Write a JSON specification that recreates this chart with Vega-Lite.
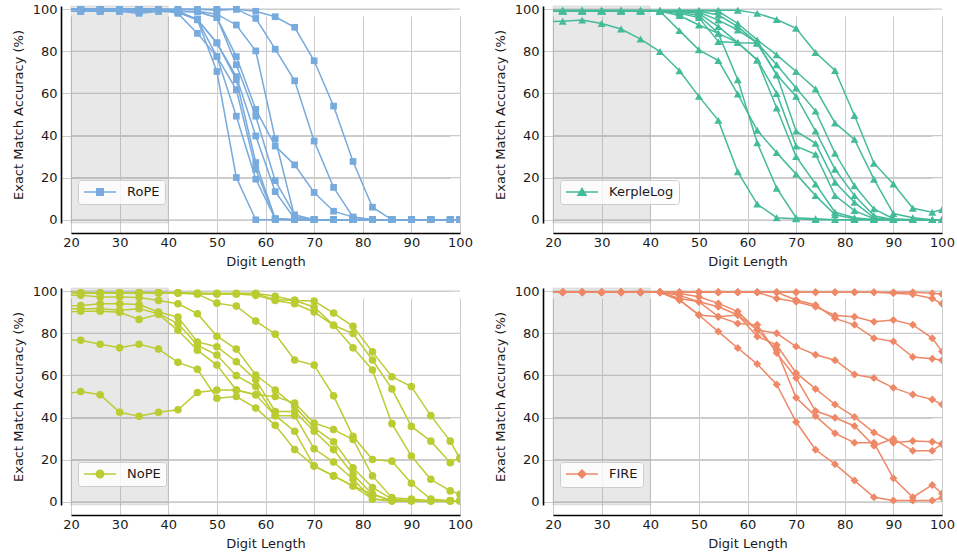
{
  "$schema": "https://vega.github.io/schema/vega-lite/v6.json",
  "padding": {"left": 12, "top": 3, "right": 6, "bottom": 4},
  "datasets": {
    "acc": [
      {"m":"RoPE","r":1,"x":18,"y":100},{"m":"RoPE","r":1,"x":22,"y":100},{"m":"RoPE","r":1,"x":26,"y":99},{"m":"RoPE","r":1,"x":30,"y":100},{"m":"RoPE","r":1,"x":34,"y":99},{"m":"RoPE","r":1,"x":38,"y":100},{"m":"RoPE","r":1,"x":42,"y":100},{"m":"RoPE","r":1,"x":46,"y":100},{"m":"RoPE","r":1,"x":50,"y":100},{"m":"RoPE","r":1,"x":54,"y":100},{"m":"RoPE","r":1,"x":58,"y":99},{"m":"RoPE","r":1,"x":62,"y":96.4},{"m":"RoPE","r":1,"x":66,"y":91.4},{"m":"RoPE","r":1,"x":70,"y":75.5},{"m":"RoPE","r":1,"x":74,"y":54},{"m":"RoPE","r":1,"x":78,"y":27.7},{"m":"RoPE","r":1,"x":82,"y":6},{"m":"RoPE","r":1,"x":86,"y":0},{"m":"RoPE","r":1,"x":90,"y":0},{"m":"RoPE","r":1,"x":94,"y":0},{"m":"RoPE","r":1,"x":98,"y":0},{"m":"RoPE","r":1,"x":100,"y":0},
      {"m":"RoPE","r":2,"x":18,"y":100},{"m":"RoPE","r":2,"x":22,"y":100},{"m":"RoPE","r":2,"x":26,"y":100},{"m":"RoPE","r":2,"x":30,"y":100},{"m":"RoPE","r":2,"x":34,"y":100},{"m":"RoPE","r":2,"x":38,"y":100},{"m":"RoPE","r":2,"x":42,"y":100},{"m":"RoPE","r":2,"x":46,"y":100},{"m":"RoPE","r":2,"x":50,"y":99.5},{"m":"RoPE","r":2,"x":54,"y":100},{"m":"RoPE","r":2,"x":58,"y":95.6},{"m":"RoPE","r":2,"x":62,"y":81},{"m":"RoPE","r":2,"x":66,"y":66},{"m":"RoPE","r":2,"x":70,"y":37.4},{"m":"RoPE","r":2,"x":74,"y":15.4},{"m":"RoPE","r":2,"x":78,"y":1.3},{"m":"RoPE","r":2,"x":82,"y":0},{"m":"RoPE","r":2,"x":86,"y":0},{"m":"RoPE","r":2,"x":90,"y":0},{"m":"RoPE","r":2,"x":94,"y":0},{"m":"RoPE","r":2,"x":98,"y":0},{"m":"RoPE","r":2,"x":100,"y":0},
      {"m":"RoPE","r":3,"x":18,"y":99},{"m":"RoPE","r":3,"x":22,"y":99},{"m":"RoPE","r":3,"x":26,"y":99},{"m":"RoPE","r":3,"x":30,"y":99},{"m":"RoPE","r":3,"x":34,"y":98},{"m":"RoPE","r":3,"x":38,"y":99},{"m":"RoPE","r":3,"x":42,"y":99},{"m":"RoPE","r":3,"x":46,"y":99},{"m":"RoPE","r":3,"x":50,"y":97.6},{"m":"RoPE","r":3,"x":54,"y":92.5},{"m":"RoPE","r":3,"x":58,"y":80.2},{"m":"RoPE","r":3,"x":62,"y":38.5},{"m":"RoPE","r":3,"x":66,"y":1.3},{"m":"RoPE","r":3,"x":70,"y":0},{"m":"RoPE","r":3,"x":74,"y":0},{"m":"RoPE","r":3,"x":78,"y":0},{"m":"RoPE","r":3,"x":82,"y":0},{"m":"RoPE","r":3,"x":86,"y":0},{"m":"RoPE","r":3,"x":90,"y":0},{"m":"RoPE","r":3,"x":94,"y":0},{"m":"RoPE","r":3,"x":98,"y":0},{"m":"RoPE","r":3,"x":100,"y":0},
      {"m":"RoPE","r":4,"x":18,"y":100},{"m":"RoPE","r":4,"x":22,"y":100},{"m":"RoPE","r":4,"x":26,"y":100},{"m":"RoPE","r":4,"x":30,"y":100},{"m":"RoPE","r":4,"x":34,"y":100},{"m":"RoPE","r":4,"x":38,"y":100},{"m":"RoPE","r":4,"x":42,"y":99},{"m":"RoPE","r":4,"x":46,"y":98.7},{"m":"RoPE","r":4,"x":50,"y":96},{"m":"RoPE","r":4,"x":54,"y":77.5},{"m":"RoPE","r":4,"x":58,"y":52.4},{"m":"RoPE","r":4,"x":62,"y":35},{"m":"RoPE","r":4,"x":66,"y":26.1},{"m":"RoPE","r":4,"x":70,"y":13},{"m":"RoPE","r":4,"x":74,"y":4.1},{"m":"RoPE","r":4,"x":78,"y":1.3},{"m":"RoPE","r":4,"x":82,"y":0},{"m":"RoPE","r":4,"x":86,"y":0},{"m":"RoPE","r":4,"x":90,"y":0},{"m":"RoPE","r":4,"x":94,"y":0},{"m":"RoPE","r":4,"x":98,"y":0},{"m":"RoPE","r":4,"x":100,"y":0},
      {"m":"RoPE","r":5,"x":18,"y":100},{"m":"RoPE","r":5,"x":22,"y":100},{"m":"RoPE","r":5,"x":26,"y":100},{"m":"RoPE","r":5,"x":30,"y":100},{"m":"RoPE","r":5,"x":34,"y":100},{"m":"RoPE","r":5,"x":38,"y":100},{"m":"RoPE","r":5,"x":42,"y":99},{"m":"RoPE","r":5,"x":46,"y":98.7},{"m":"RoPE","r":5,"x":50,"y":96},{"m":"RoPE","r":5,"x":54,"y":73.6},{"m":"RoPE","r":5,"x":58,"y":49.2},{"m":"RoPE","r":5,"x":62,"y":18.6},{"m":"RoPE","r":5,"x":66,"y":2.4},{"m":"RoPE","r":5,"x":70,"y":0},{"m":"RoPE","r":5,"x":74,"y":0},{"m":"RoPE","r":5,"x":78,"y":0},{"m":"RoPE","r":5,"x":82,"y":0},{"m":"RoPE","r":5,"x":86,"y":0},{"m":"RoPE","r":5,"x":90,"y":0},{"m":"RoPE","r":5,"x":94,"y":0},{"m":"RoPE","r":5,"x":98,"y":0},{"m":"RoPE","r":5,"x":100,"y":0},
      {"m":"RoPE","r":6,"x":18,"y":99},{"m":"RoPE","r":6,"x":22,"y":99},{"m":"RoPE","r":6,"x":26,"y":99},{"m":"RoPE","r":6,"x":30,"y":99},{"m":"RoPE","r":6,"x":34,"y":99},{"m":"RoPE","r":6,"x":38,"y":99},{"m":"RoPE","r":6,"x":42,"y":98.5},{"m":"RoPE","r":6,"x":46,"y":95},{"m":"RoPE","r":6,"x":50,"y":84},{"m":"RoPE","r":6,"x":54,"y":68},{"m":"RoPE","r":6,"x":58,"y":39.8},{"m":"RoPE","r":6,"x":62,"y":13.4},{"m":"RoPE","r":6,"x":66,"y":0.5},{"m":"RoPE","r":6,"x":70,"y":0},{"m":"RoPE","r":6,"x":74,"y":0},{"m":"RoPE","r":6,"x":78,"y":0},{"m":"RoPE","r":6,"x":82,"y":0},{"m":"RoPE","r":6,"x":86,"y":0},{"m":"RoPE","r":6,"x":90,"y":0},{"m":"RoPE","r":6,"x":94,"y":0},{"m":"RoPE","r":6,"x":98,"y":0},{"m":"RoPE","r":6,"x":100,"y":0},
      {"m":"RoPE","r":7,"x":18,"y":100},{"m":"RoPE","r":7,"x":22,"y":100},{"m":"RoPE","r":7,"x":26,"y":100},{"m":"RoPE","r":7,"x":30,"y":100},{"m":"RoPE","r":7,"x":34,"y":100},{"m":"RoPE","r":7,"x":38,"y":100},{"m":"RoPE","r":7,"x":42,"y":99},{"m":"RoPE","r":7,"x":46,"y":95},{"m":"RoPE","r":7,"x":50,"y":84},{"m":"RoPE","r":7,"x":54,"y":66.5},{"m":"RoPE","r":7,"x":58,"y":27.2},{"m":"RoPE","r":7,"x":62,"y":0.5},{"m":"RoPE","r":7,"x":66,"y":0},{"m":"RoPE","r":7,"x":70,"y":0},{"m":"RoPE","r":7,"x":74,"y":0},{"m":"RoPE","r":7,"x":78,"y":0},{"m":"RoPE","r":7,"x":82,"y":0},{"m":"RoPE","r":7,"x":86,"y":0},{"m":"RoPE","r":7,"x":90,"y":0},{"m":"RoPE","r":7,"x":94,"y":0},{"m":"RoPE","r":7,"x":98,"y":0},{"m":"RoPE","r":7,"x":100,"y":0},
      {"m":"RoPE","r":8,"x":18,"y":100},{"m":"RoPE","r":8,"x":22,"y":100},{"m":"RoPE","r":8,"x":26,"y":100},{"m":"RoPE","r":8,"x":30,"y":100},{"m":"RoPE","r":8,"x":34,"y":100},{"m":"RoPE","r":8,"x":38,"y":100},{"m":"RoPE","r":8,"x":42,"y":98.5},{"m":"RoPE","r":8,"x":46,"y":95},{"m":"RoPE","r":8,"x":50,"y":77.5},{"m":"RoPE","r":8,"x":54,"y":61.8},{"m":"RoPE","r":8,"x":58,"y":24},{"m":"RoPE","r":8,"x":62,"y":0.5},{"m":"RoPE","r":8,"x":66,"y":0},{"m":"RoPE","r":8,"x":70,"y":0},{"m":"RoPE","r":8,"x":74,"y":0},{"m":"RoPE","r":8,"x":78,"y":0},{"m":"RoPE","r":8,"x":82,"y":0},{"m":"RoPE","r":8,"x":86,"y":0},{"m":"RoPE","r":8,"x":90,"y":0},{"m":"RoPE","r":8,"x":94,"y":0},{"m":"RoPE","r":8,"x":98,"y":0},{"m":"RoPE","r":8,"x":100,"y":0},
      {"m":"RoPE","r":9,"x":18,"y":99},{"m":"RoPE","r":9,"x":22,"y":99},{"m":"RoPE","r":9,"x":26,"y":100},{"m":"RoPE","r":9,"x":30,"y":99},{"m":"RoPE","r":9,"x":34,"y":99},{"m":"RoPE","r":9,"x":38,"y":100},{"m":"RoPE","r":9,"x":42,"y":98},{"m":"RoPE","r":9,"x":46,"y":88.5},{"m":"RoPE","r":9,"x":50,"y":77.5},{"m":"RoPE","r":9,"x":54,"y":49.2},{"m":"RoPE","r":9,"x":58,"y":19.3},{"m":"RoPE","r":9,"x":62,"y":0.5},{"m":"RoPE","r":9,"x":66,"y":0},{"m":"RoPE","r":9,"x":70,"y":0},{"m":"RoPE","r":9,"x":74,"y":0},{"m":"RoPE","r":9,"x":78,"y":0},{"m":"RoPE","r":9,"x":82,"y":0},{"m":"RoPE","r":9,"x":86,"y":0},{"m":"RoPE","r":9,"x":90,"y":0},{"m":"RoPE","r":9,"x":94,"y":0},{"m":"RoPE","r":9,"x":98,"y":0},{"m":"RoPE","r":9,"x":100,"y":0},
      {"m":"RoPE","r":10,"x":18,"y":100},{"m":"RoPE","r":10,"x":22,"y":100},{"m":"RoPE","r":10,"x":26,"y":100},{"m":"RoPE","r":10,"x":30,"y":100},{"m":"RoPE","r":10,"x":34,"y":100},{"m":"RoPE","r":10,"x":38,"y":100},{"m":"RoPE","r":10,"x":42,"y":99},{"m":"RoPE","r":10,"x":46,"y":95},{"m":"RoPE","r":10,"x":50,"y":70.4},{"m":"RoPE","r":10,"x":54,"y":20.1},{"m":"RoPE","r":10,"x":58,"y":0},{"m":"RoPE","r":10,"x":62,"y":0},{"m":"RoPE","r":10,"x":66,"y":0},{"m":"RoPE","r":10,"x":70,"y":0},{"m":"RoPE","r":10,"x":74,"y":0},{"m":"RoPE","r":10,"x":78,"y":0},{"m":"RoPE","r":10,"x":82,"y":0},{"m":"RoPE","r":10,"x":86,"y":0},{"m":"RoPE","r":10,"x":90,"y":0},{"m":"RoPE","r":10,"x":94,"y":0},{"m":"RoPE","r":10,"x":98,"y":0},{"m":"RoPE","r":10,"x":100,"y":0},

      {"m":"KerpleLog","r":1,"x":18,"y":94},{"m":"KerpleLog","r":1,"x":22,"y":94.3},{"m":"KerpleLog","r":1,"x":26,"y":94.8},{"m":"KerpleLog","r":1,"x":30,"y":93.2},{"m":"KerpleLog","r":1,"x":34,"y":90.6},{"m":"KerpleLog","r":1,"x":38,"y":85.8},{"m":"KerpleLog","r":1,"x":42,"y":79.9},{"m":"KerpleLog","r":1,"x":46,"y":70.8},{"m":"KerpleLog","r":1,"x":50,"y":58.6},{"m":"KerpleLog","r":1,"x":54,"y":47.2},{"m":"KerpleLog","r":1,"x":58,"y":22.8},{"m":"KerpleLog","r":1,"x":62,"y":7.5},{"m":"KerpleLog","r":1,"x":66,"y":1},{"m":"KerpleLog","r":1,"x":70,"y":0.5},{"m":"KerpleLog","r":1,"x":74,"y":0},{"m":"KerpleLog","r":1,"x":78,"y":0},{"m":"KerpleLog","r":1,"x":82,"y":0},{"m":"KerpleLog","r":1,"x":86,"y":0},{"m":"KerpleLog","r":1,"x":90,"y":0},{"m":"KerpleLog","r":1,"x":94,"y":0},{"m":"KerpleLog","r":1,"x":98,"y":0},{"m":"KerpleLog","r":1,"x":100,"y":0},
      {"m":"KerpleLog","r":2,"x":18,"y":99.2},{"m":"KerpleLog","r":2,"x":22,"y":99.2},{"m":"KerpleLog","r":2,"x":26,"y":99.2},{"m":"KerpleLog","r":2,"x":30,"y":99.2},{"m":"KerpleLog","r":2,"x":34,"y":99.2},{"m":"KerpleLog","r":2,"x":38,"y":99.2},{"m":"KerpleLog","r":2,"x":42,"y":99},{"m":"KerpleLog","r":2,"x":46,"y":97},{"m":"KerpleLog","r":2,"x":50,"y":92.5},{"m":"KerpleLog","r":2,"x":54,"y":88.5},{"m":"KerpleLog","r":2,"x":58,"y":66.5},{"m":"KerpleLog","r":2,"x":62,"y":36.6},{"m":"KerpleLog","r":2,"x":66,"y":15},{"m":"KerpleLog","r":2,"x":70,"y":1},{"m":"KerpleLog","r":2,"x":74,"y":0.5},{"m":"KerpleLog","r":2,"x":78,"y":0},{"m":"KerpleLog","r":2,"x":82,"y":0},{"m":"KerpleLog","r":2,"x":86,"y":0},{"m":"KerpleLog","r":2,"x":90,"y":0},{"m":"KerpleLog","r":2,"x":94,"y":0},{"m":"KerpleLog","r":2,"x":98,"y":0},{"m":"KerpleLog","r":2,"x":100,"y":0},
      {"m":"KerpleLog","r":3,"x":18,"y":99.2},{"m":"KerpleLog","r":3,"x":22,"y":99.2},{"m":"KerpleLog","r":3,"x":26,"y":99.2},{"m":"KerpleLog","r":3,"x":30,"y":99.2},{"m":"KerpleLog","r":3,"x":34,"y":99.2},{"m":"KerpleLog","r":3,"x":38,"y":99.2},{"m":"KerpleLog","r":3,"x":42,"y":99},{"m":"KerpleLog","r":3,"x":46,"y":89.8},{"m":"KerpleLog","r":3,"x":50,"y":80.7},{"m":"KerpleLog","r":3,"x":54,"y":75.6},{"m":"KerpleLog","r":3,"x":58,"y":59.7},{"m":"KerpleLog","r":3,"x":62,"y":42.5},{"m":"KerpleLog","r":3,"x":66,"y":31.9},{"m":"KerpleLog","r":3,"x":70,"y":21.7},{"m":"KerpleLog","r":3,"x":74,"y":11.5},{"m":"KerpleLog","r":3,"x":78,"y":2.4},{"m":"KerpleLog","r":3,"x":82,"y":0.5},{"m":"KerpleLog","r":3,"x":86,"y":0},{"m":"KerpleLog","r":3,"x":90,"y":0},{"m":"KerpleLog","r":3,"x":94,"y":0},{"m":"KerpleLog","r":3,"x":98,"y":0},{"m":"KerpleLog","r":3,"x":100,"y":0},
      {"m":"KerpleLog","r":4,"x":18,"y":99.2},{"m":"KerpleLog","r":4,"x":22,"y":99.2},{"m":"KerpleLog","r":4,"x":26,"y":99.2},{"m":"KerpleLog","r":4,"x":30,"y":99.2},{"m":"KerpleLog","r":4,"x":34,"y":99.2},{"m":"KerpleLog","r":4,"x":38,"y":99.2},{"m":"KerpleLog","r":4,"x":42,"y":99},{"m":"KerpleLog","r":4,"x":46,"y":98},{"m":"KerpleLog","r":4,"x":50,"y":96},{"m":"KerpleLog","r":4,"x":54,"y":84.6},{"m":"KerpleLog","r":4,"x":58,"y":84.1},{"m":"KerpleLog","r":4,"x":62,"y":75.9},{"m":"KerpleLog","r":4,"x":66,"y":53.1},{"m":"KerpleLog","r":4,"x":70,"y":30},{"m":"KerpleLog","r":4,"x":74,"y":17},{"m":"KerpleLog","r":4,"x":78,"y":3.6},{"m":"KerpleLog","r":4,"x":82,"y":1},{"m":"KerpleLog","r":4,"x":86,"y":0},{"m":"KerpleLog","r":4,"x":90,"y":0},{"m":"KerpleLog","r":4,"x":94,"y":0},{"m":"KerpleLog","r":4,"x":98,"y":0},{"m":"KerpleLog","r":4,"x":100,"y":0},
      {"m":"KerpleLog","r":5,"x":18,"y":99.2},{"m":"KerpleLog","r":5,"x":22,"y":99.2},{"m":"KerpleLog","r":5,"x":26,"y":99.2},{"m":"KerpleLog","r":5,"x":30,"y":99.2},{"m":"KerpleLog","r":5,"x":34,"y":99.2},{"m":"KerpleLog","r":5,"x":38,"y":99.2},{"m":"KerpleLog","r":5,"x":42,"y":99},{"m":"KerpleLog","r":5,"x":46,"y":98.5},{"m":"KerpleLog","r":5,"x":50,"y":97},{"m":"KerpleLog","r":5,"x":54,"y":88.5},{"m":"KerpleLog","r":5,"x":58,"y":84.1},{"m":"KerpleLog","r":5,"x":62,"y":75.9},{"m":"KerpleLog","r":5,"x":66,"y":60},{"m":"KerpleLog","r":5,"x":70,"y":35},{"m":"KerpleLog","r":5,"x":74,"y":31.1},{"m":"KerpleLog","r":5,"x":78,"y":11.5},{"m":"KerpleLog","r":5,"x":82,"y":4.4},{"m":"KerpleLog","r":5,"x":86,"y":0.5},{"m":"KerpleLog","r":5,"x":90,"y":0},{"m":"KerpleLog","r":5,"x":94,"y":0},{"m":"KerpleLog","r":5,"x":98,"y":0},{"m":"KerpleLog","r":5,"x":100,"y":0},
      {"m":"KerpleLog","r":6,"x":18,"y":99.2},{"m":"KerpleLog","r":6,"x":22,"y":99.2},{"m":"KerpleLog","r":6,"x":26,"y":99.2},{"m":"KerpleLog","r":6,"x":30,"y":99.2},{"m":"KerpleLog","r":6,"x":34,"y":99.2},{"m":"KerpleLog","r":6,"x":38,"y":99.2},{"m":"KerpleLog","r":6,"x":42,"y":99.2},{"m":"KerpleLog","r":6,"x":46,"y":99},{"m":"KerpleLog","r":6,"x":50,"y":98},{"m":"KerpleLog","r":6,"x":54,"y":91.7},{"m":"KerpleLog","r":6,"x":58,"y":84.1},{"m":"KerpleLog","r":6,"x":62,"y":83.8},{"m":"KerpleLog","r":6,"x":66,"y":68.9},{"m":"KerpleLog","r":6,"x":70,"y":42.1},{"m":"KerpleLog","r":6,"x":74,"y":36.3},{"m":"KerpleLog","r":6,"x":78,"y":17.8},{"m":"KerpleLog","r":6,"x":82,"y":8.3},{"m":"KerpleLog","r":6,"x":86,"y":1},{"m":"KerpleLog","r":6,"x":90,"y":0},{"m":"KerpleLog","r":6,"x":94,"y":0},{"m":"KerpleLog","r":6,"x":98,"y":0},{"m":"KerpleLog","r":6,"x":100,"y":0},
      {"m":"KerpleLog","r":7,"x":18,"y":99.2},{"m":"KerpleLog","r":7,"x":22,"y":99.2},{"m":"KerpleLog","r":7,"x":26,"y":99.2},{"m":"KerpleLog","r":7,"x":30,"y":99.2},{"m":"KerpleLog","r":7,"x":34,"y":99.2},{"m":"KerpleLog","r":7,"x":38,"y":99.2},{"m":"KerpleLog","r":7,"x":42,"y":99.2},{"m":"KerpleLog","r":7,"x":46,"y":99},{"m":"KerpleLog","r":7,"x":50,"y":98.5},{"m":"KerpleLog","r":7,"x":54,"y":94.8},{"m":"KerpleLog","r":7,"x":58,"y":90.1},{"m":"KerpleLog","r":7,"x":62,"y":84},{"m":"KerpleLog","r":7,"x":66,"y":68.9},{"m":"KerpleLog","r":7,"x":70,"y":58.6},{"m":"KerpleLog","r":7,"x":74,"y":42.1},{"m":"KerpleLog","r":7,"x":78,"y":24},{"m":"KerpleLog","r":7,"x":82,"y":11.5},{"m":"KerpleLog","r":7,"x":86,"y":2},{"m":"KerpleLog","r":7,"x":90,"y":0},{"m":"KerpleLog","r":7,"x":94,"y":0},{"m":"KerpleLog","r":7,"x":98,"y":0},{"m":"KerpleLog","r":7,"x":100,"y":0},
      {"m":"KerpleLog","r":8,"x":18,"y":99.2},{"m":"KerpleLog","r":8,"x":22,"y":99.2},{"m":"KerpleLog","r":8,"x":26,"y":99.2},{"m":"KerpleLog","r":8,"x":30,"y":99.2},{"m":"KerpleLog","r":8,"x":34,"y":99.2},{"m":"KerpleLog","r":8,"x":38,"y":99.2},{"m":"KerpleLog","r":8,"x":42,"y":99.2},{"m":"KerpleLog","r":8,"x":46,"y":99.2},{"m":"KerpleLog","r":8,"x":50,"y":99},{"m":"KerpleLog","r":8,"x":54,"y":97.2},{"m":"KerpleLog","r":8,"x":58,"y":91.7},{"m":"KerpleLog","r":8,"x":62,"y":84},{"m":"KerpleLog","r":8,"x":66,"y":73.6},{"m":"KerpleLog","r":8,"x":70,"y":62.6},{"m":"KerpleLog","r":8,"x":74,"y":51.6},{"m":"KerpleLog","r":8,"x":78,"y":31.6},{"m":"KerpleLog","r":8,"x":82,"y":16.2},{"m":"KerpleLog","r":8,"x":86,"y":5.2},{"m":"KerpleLog","r":8,"x":90,"y":0.5},{"m":"KerpleLog","r":8,"x":94,"y":0},{"m":"KerpleLog","r":8,"x":98,"y":0},{"m":"KerpleLog","r":8,"x":100,"y":0},
      {"m":"KerpleLog","r":9,"x":18,"y":99.2},{"m":"KerpleLog","r":9,"x":22,"y":99.2},{"m":"KerpleLog","r":9,"x":26,"y":99.2},{"m":"KerpleLog","r":9,"x":30,"y":99.2},{"m":"KerpleLog","r":9,"x":34,"y":99.2},{"m":"KerpleLog","r":9,"x":38,"y":99.2},{"m":"KerpleLog","r":9,"x":42,"y":99.2},{"m":"KerpleLog","r":9,"x":46,"y":99.2},{"m":"KerpleLog","r":9,"x":50,"y":99.2},{"m":"KerpleLog","r":9,"x":54,"y":99},{"m":"KerpleLog","r":9,"x":58,"y":93.2},{"m":"KerpleLog","r":9,"x":62,"y":85.4},{"m":"KerpleLog","r":9,"x":66,"y":78.3},{"m":"KerpleLog","r":9,"x":70,"y":70.4},{"m":"KerpleLog","r":9,"x":74,"y":62.1},{"m":"KerpleLog","r":9,"x":78,"y":46},{"m":"KerpleLog","r":9,"x":82,"y":38.2},{"m":"KerpleLog","r":9,"x":86,"y":19.3},{"m":"KerpleLog","r":9,"x":90,"y":3},{"m":"KerpleLog","r":9,"x":94,"y":1},{"m":"KerpleLog","r":9,"x":98,"y":0},{"m":"KerpleLog","r":9,"x":100,"y":0},
      {"m":"KerpleLog","r":10,"x":18,"y":99.5},{"m":"KerpleLog","r":10,"x":22,"y":99.5},{"m":"KerpleLog","r":10,"x":26,"y":99.5},{"m":"KerpleLog","r":10,"x":30,"y":99.5},{"m":"KerpleLog","r":10,"x":34,"y":99.5},{"m":"KerpleLog","r":10,"x":38,"y":99.5},{"m":"KerpleLog","r":10,"x":42,"y":99.5},{"m":"KerpleLog","r":10,"x":46,"y":99.5},{"m":"KerpleLog","r":10,"x":50,"y":99.5},{"m":"KerpleLog","r":10,"x":54,"y":99.5},{"m":"KerpleLog","r":10,"x":58,"y":99.5},{"m":"KerpleLog","r":10,"x":62,"y":98},{"m":"KerpleLog","r":10,"x":66,"y":95.1},{"m":"KerpleLog","r":10,"x":70,"y":90.9},{"m":"KerpleLog","r":10,"x":74,"y":79.4},{"m":"KerpleLog","r":10,"x":78,"y":70.9},{"m":"KerpleLog","r":10,"x":82,"y":49.5},{"m":"KerpleLog","r":10,"x":86,"y":26.9},{"m":"KerpleLog","r":10,"x":90,"y":17},{"m":"KerpleLog","r":10,"x":94,"y":5.5},{"m":"KerpleLog","r":10,"x":98,"y":3.6},{"m":"KerpleLog","r":10,"x":100,"y":4.9},

      {"m":"NoPE","r":1,"x":18,"y":99.5},{"m":"NoPE","r":1,"x":22,"y":99.2},{"m":"NoPE","r":1,"x":26,"y":99.2},{"m":"NoPE","r":1,"x":30,"y":99.2},{"m":"NoPE","r":1,"x":34,"y":99.2},{"m":"NoPE","r":1,"x":38,"y":99.2},{"m":"NoPE","r":1,"x":42,"y":99.2},{"m":"NoPE","r":1,"x":46,"y":99},{"m":"NoPE","r":1,"x":50,"y":99},{"m":"NoPE","r":1,"x":54,"y":99},{"m":"NoPE","r":1,"x":58,"y":99},{"m":"NoPE","r":1,"x":62,"y":97.6},{"m":"NoPE","r":1,"x":66,"y":95.6},{"m":"NoPE","r":1,"x":70,"y":95.3},{"m":"NoPE","r":1,"x":74,"y":89.6},{"m":"NoPE","r":1,"x":78,"y":83.3},{"m":"NoPE","r":1,"x":82,"y":71.2},{"m":"NoPE","r":1,"x":86,"y":59.4},{"m":"NoPE","r":1,"x":90,"y":54.7},{"m":"NoPE","r":1,"x":94,"y":40.9},{"m":"NoPE","r":1,"x":98,"y":28.8},{"m":"NoPE","r":1,"x":100,"y":20.4},
      {"m":"NoPE","r":2,"x":18,"y":99.5},{"m":"NoPE","r":2,"x":22,"y":99.2},{"m":"NoPE","r":2,"x":26,"y":99.2},{"m":"NoPE","r":2,"x":30,"y":99.2},{"m":"NoPE","r":2,"x":34,"y":99.2},{"m":"NoPE","r":2,"x":38,"y":99.2},{"m":"NoPE","r":2,"x":42,"y":99.2},{"m":"NoPE","r":2,"x":46,"y":99},{"m":"NoPE","r":2,"x":50,"y":98.7},{"m":"NoPE","r":2,"x":54,"y":98.7},{"m":"NoPE","r":2,"x":58,"y":98.7},{"m":"NoPE","r":2,"x":62,"y":96},{"m":"NoPE","r":2,"x":66,"y":95.6},{"m":"NoPE","r":2,"x":70,"y":92.5},{"m":"NoPE","r":2,"x":74,"y":83.8},{"m":"NoPE","r":2,"x":78,"y":79.9},{"m":"NoPE","r":2,"x":82,"y":67.3},{"m":"NoPE","r":2,"x":86,"y":53.6},{"m":"NoPE","r":2,"x":90,"y":35.8},{"m":"NoPE","r":2,"x":94,"y":28.8},{"m":"NoPE","r":2,"x":98,"y":18.6},{"m":"NoPE","r":2,"x":100,"y":21},
      {"m":"NoPE","r":3,"x":18,"y":99.5},{"m":"NoPE","r":3,"x":22,"y":99.2},{"m":"NoPE","r":3,"x":26,"y":99.2},{"m":"NoPE","r":3,"x":30,"y":99.2},{"m":"NoPE","r":3,"x":34,"y":99.2},{"m":"NoPE","r":3,"x":38,"y":99.2},{"m":"NoPE","r":3,"x":42,"y":99},{"m":"NoPE","r":3,"x":46,"y":98.7},{"m":"NoPE","r":3,"x":50,"y":98.7},{"m":"NoPE","r":3,"x":54,"y":98.7},{"m":"NoPE","r":3,"x":58,"y":98},{"m":"NoPE","r":3,"x":62,"y":95.6},{"m":"NoPE","r":3,"x":66,"y":94},{"m":"NoPE","r":3,"x":70,"y":90.1},{"m":"NoPE","r":3,"x":74,"y":83.8},{"m":"NoPE","r":3,"x":78,"y":73.1},{"m":"NoPE","r":3,"x":82,"y":62.6},{"m":"NoPE","r":3,"x":86,"y":37.1},{"m":"NoPE","r":3,"x":90,"y":21.7},{"m":"NoPE","r":3,"x":94,"y":10.7},{"m":"NoPE","r":3,"x":98,"y":5.2},{"m":"NoPE","r":3,"x":100,"y":3.6},
      {"m":"NoPE","r":4,"x":18,"y":99.2},{"m":"NoPE","r":4,"x":22,"y":99.2},{"m":"NoPE","r":4,"x":26,"y":99.2},{"m":"NoPE","r":4,"x":30,"y":99.2},{"m":"NoPE","r":4,"x":34,"y":99.2},{"m":"NoPE","r":4,"x":38,"y":99.2},{"m":"NoPE","r":4,"x":42,"y":99.2},{"m":"NoPE","r":4,"x":46,"y":98.7},{"m":"NoPE","r":4,"x":50,"y":94.3},{"m":"NoPE","r":4,"x":54,"y":92.9},{"m":"NoPE","r":4,"x":58,"y":85.8},{"m":"NoPE","r":4,"x":62,"y":79.6},{"m":"NoPE","r":4,"x":66,"y":67.3},{"m":"NoPE","r":4,"x":70,"y":64.9},{"m":"NoPE","r":4,"x":74,"y":50.3},{"m":"NoPE","r":4,"x":78,"y":31.1},{"m":"NoPE","r":4,"x":82,"y":20.1},{"m":"NoPE","r":4,"x":86,"y":19.3},{"m":"NoPE","r":4,"x":90,"y":8.8},{"m":"NoPE","r":4,"x":94,"y":1.3},{"m":"NoPE","r":4,"x":98,"y":0.5},{"m":"NoPE","r":4,"x":100,"y":0.5},
      {"m":"NoPE","r":5,"x":18,"y":98},{"m":"NoPE","r":5,"x":22,"y":98},{"m":"NoPE","r":5,"x":26,"y":97.2},{"m":"NoPE","r":5,"x":30,"y":97.2},{"m":"NoPE","r":5,"x":34,"y":97},{"m":"NoPE","r":5,"x":38,"y":95.6},{"m":"NoPE","r":5,"x":42,"y":94},{"m":"NoPE","r":5,"x":46,"y":89.3},{"m":"NoPE","r":5,"x":50,"y":78.6},{"m":"NoPE","r":5,"x":54,"y":72.5},{"m":"NoPE","r":5,"x":58,"y":60.2},{"m":"NoPE","r":5,"x":62,"y":53.1},{"m":"NoPE","r":5,"x":66,"y":45.3},{"m":"NoPE","r":5,"x":70,"y":35.1},{"m":"NoPE","r":5,"x":74,"y":28.5},{"m":"NoPE","r":5,"x":78,"y":16.2},{"m":"NoPE","r":5,"x":82,"y":6.8},{"m":"NoPE","r":5,"x":86,"y":1.3},{"m":"NoPE","r":5,"x":90,"y":0.5},{"m":"NoPE","r":5,"x":94,"y":0.5},{"m":"NoPE","r":5,"x":98,"y":0.5},{"m":"NoPE","r":5,"x":100,"y":0.5},
      {"m":"NoPE","r":6,"x":18,"y":93},{"m":"NoPE","r":6,"x":22,"y":93.2},{"m":"NoPE","r":6,"x":26,"y":94},{"m":"NoPE","r":6,"x":30,"y":94},{"m":"NoPE","r":6,"x":34,"y":93.7},{"m":"NoPE","r":6,"x":38,"y":90.1},{"m":"NoPE","r":6,"x":42,"y":87.7},{"m":"NoPE","r":6,"x":46,"y":75.9},{"m":"NoPE","r":6,"x":50,"y":73.6},{"m":"NoPE","r":6,"x":54,"y":66.5},{"m":"NoPE","r":6,"x":58,"y":57.9},{"m":"NoPE","r":6,"x":62,"y":42.9},{"m":"NoPE","r":6,"x":66,"y":42.9},{"m":"NoPE","r":6,"x":70,"y":33.5},{"m":"NoPE","r":6,"x":74,"y":24.8},{"m":"NoPE","r":6,"x":78,"y":13},{"m":"NoPE","r":6,"x":82,"y":3.6},{"m":"NoPE","r":6,"x":86,"y":0.5},{"m":"NoPE","r":6,"x":90,"y":0.5},{"m":"NoPE","r":6,"x":94,"y":0.5},{"m":"NoPE","r":6,"x":98,"y":0.5},{"m":"NoPE","r":6,"x":100,"y":0.5},
      {"m":"NoPE","r":7,"x":18,"y":91.5},{"m":"NoPE","r":7,"x":22,"y":91.7},{"m":"NoPE","r":7,"x":26,"y":91.7},{"m":"NoPE","r":7,"x":30,"y":90.9},{"m":"NoPE","r":7,"x":34,"y":91.7},{"m":"NoPE","r":7,"x":38,"y":89.3},{"m":"NoPE","r":7,"x":42,"y":84.6},{"m":"NoPE","r":7,"x":46,"y":74.4},{"m":"NoPE","r":7,"x":50,"y":69.7},{"m":"NoPE","r":7,"x":54,"y":59.9},{"m":"NoPE","r":7,"x":58,"y":54.7},{"m":"NoPE","r":7,"x":62,"y":40.9},{"m":"NoPE","r":7,"x":66,"y":40.9},{"m":"NoPE","r":7,"x":70,"y":25.2},{"m":"NoPE","r":7,"x":74,"y":18.9},{"m":"NoPE","r":7,"x":78,"y":10.7},{"m":"NoPE","r":7,"x":82,"y":1.3},{"m":"NoPE","r":7,"x":86,"y":0.5},{"m":"NoPE","r":7,"x":90,"y":0.5},{"m":"NoPE","r":7,"x":94,"y":0.5},{"m":"NoPE","r":7,"x":98,"y":0.5},{"m":"NoPE","r":7,"x":100,"y":0.5},
      {"m":"NoPE","r":8,"x":18,"y":90},{"m":"NoPE","r":8,"x":22,"y":90.5},{"m":"NoPE","r":8,"x":26,"y":90.5},{"m":"NoPE","r":8,"x":30,"y":90},{"m":"NoPE","r":8,"x":34,"y":86.6},{"m":"NoPE","r":8,"x":38,"y":89},{"m":"NoPE","r":8,"x":42,"y":81.4},{"m":"NoPE","r":8,"x":46,"y":72},{"m":"NoPE","r":8,"x":50,"y":64.9},{"m":"NoPE","r":8,"x":54,"y":53.1},{"m":"NoPE","r":8,"x":58,"y":50.8},{"m":"NoPE","r":8,"x":62,"y":40.9},{"m":"NoPE","r":8,"x":66,"y":33.5},{"m":"NoPE","r":8,"x":70,"y":17},{"m":"NoPE","r":8,"x":74,"y":12.3},{"m":"NoPE","r":8,"x":78,"y":7.5},{"m":"NoPE","r":8,"x":82,"y":1.3},{"m":"NoPE","r":8,"x":86,"y":0.5},{"m":"NoPE","r":8,"x":90,"y":0.5},{"m":"NoPE","r":8,"x":94,"y":0.5},{"m":"NoPE","r":8,"x":98,"y":0.5},{"m":"NoPE","r":8,"x":100,"y":0.5},
      {"m":"NoPE","r":9,"x":18,"y":77},{"m":"NoPE","r":9,"x":22,"y":76.7},{"m":"NoPE","r":9,"x":26,"y":74.8},{"m":"NoPE","r":9,"x":30,"y":73.1},{"m":"NoPE","r":9,"x":34,"y":74.8},{"m":"NoPE","r":9,"x":38,"y":72.5},{"m":"NoPE","r":9,"x":42,"y":66.2},{"m":"NoPE","r":9,"x":46,"y":62.9},{"m":"NoPE","r":9,"x":50,"y":49.2},{"m":"NoPE","r":9,"x":54,"y":50},{"m":"NoPE","r":9,"x":58,"y":44.5},{"m":"NoPE","r":9,"x":62,"y":36.3},{"m":"NoPE","r":9,"x":66,"y":24.8},{"m":"NoPE","r":9,"x":70,"y":17},{"m":"NoPE","r":9,"x":74,"y":12.3},{"m":"NoPE","r":9,"x":78,"y":7.5},{"m":"NoPE","r":9,"x":82,"y":3.6},{"m":"NoPE","r":9,"x":86,"y":0.5},{"m":"NoPE","r":9,"x":90,"y":0.5},{"m":"NoPE","r":9,"x":94,"y":0.5},{"m":"NoPE","r":9,"x":98,"y":0.5},{"m":"NoPE","r":9,"x":100,"y":0.5},
      {"m":"NoPE","r":10,"x":18,"y":51},{"m":"NoPE","r":10,"x":22,"y":52.4},{"m":"NoPE","r":10,"x":26,"y":50.8},{"m":"NoPE","r":10,"x":30,"y":42.5},{"m":"NoPE","r":10,"x":34,"y":40.6},{"m":"NoPE","r":10,"x":38,"y":42.5},{"m":"NoPE","r":10,"x":42,"y":43.7},{"m":"NoPE","r":10,"x":46,"y":51.9},{"m":"NoPE","r":10,"x":50,"y":53.1},{"m":"NoPE","r":10,"x":54,"y":53.1},{"m":"NoPE","r":10,"x":58,"y":50.8},{"m":"NoPE","r":10,"x":62,"y":50},{"m":"NoPE","r":10,"x":66,"y":46.9},{"m":"NoPE","r":10,"x":70,"y":37.4},{"m":"NoPE","r":10,"x":74,"y":34.3},{"m":"NoPE","r":10,"x":78,"y":29.6},{"m":"NoPE","r":10,"x":82,"y":12.3},{"m":"NoPE","r":10,"x":86,"y":2},{"m":"NoPE","r":10,"x":90,"y":1.3},{"m":"NoPE","r":10,"x":94,"y":0.5},{"m":"NoPE","r":10,"x":98,"y":0.5},{"m":"NoPE","r":10,"x":100,"y":0.5},

      {"m":"FIRE","r":1,"x":18,"y":99.5},{"m":"FIRE","r":1,"x":22,"y":99.5},{"m":"FIRE","r":1,"x":26,"y":99.5},{"m":"FIRE","r":1,"x":30,"y":99.5},{"m":"FIRE","r":1,"x":34,"y":99.5},{"m":"FIRE","r":1,"x":38,"y":99.5},{"m":"FIRE","r":1,"x":42,"y":99.5},{"m":"FIRE","r":1,"x":46,"y":99.5},{"m":"FIRE","r":1,"x":50,"y":99.5},{"m":"FIRE","r":1,"x":54,"y":99.5},{"m":"FIRE","r":1,"x":58,"y":99.5},{"m":"FIRE","r":1,"x":62,"y":99.5},{"m":"FIRE","r":1,"x":66,"y":99.5},{"m":"FIRE","r":1,"x":70,"y":99.5},{"m":"FIRE","r":1,"x":74,"y":99.5},{"m":"FIRE","r":1,"x":78,"y":99.5},{"m":"FIRE","r":1,"x":82,"y":99.5},{"m":"FIRE","r":1,"x":86,"y":99.5},{"m":"FIRE","r":1,"x":90,"y":99.5},{"m":"FIRE","r":1,"x":94,"y":99.5},{"m":"FIRE","r":1,"x":98,"y":99},{"m":"FIRE","r":1,"x":100,"y":98.5},
      {"m":"FIRE","r":2,"x":18,"y":99.5},{"m":"FIRE","r":2,"x":22,"y":99.5},{"m":"FIRE","r":2,"x":26,"y":99.5},{"m":"FIRE","r":2,"x":30,"y":99.5},{"m":"FIRE","r":2,"x":34,"y":99.5},{"m":"FIRE","r":2,"x":38,"y":99.5},{"m":"FIRE","r":2,"x":42,"y":99.5},{"m":"FIRE","r":2,"x":46,"y":99.5},{"m":"FIRE","r":2,"x":50,"y":99.5},{"m":"FIRE","r":2,"x":54,"y":99.5},{"m":"FIRE","r":2,"x":58,"y":99.5},{"m":"FIRE","r":2,"x":62,"y":99.5},{"m":"FIRE","r":2,"x":66,"y":99.5},{"m":"FIRE","r":2,"x":70,"y":99.5},{"m":"FIRE","r":2,"x":74,"y":99.5},{"m":"FIRE","r":2,"x":78,"y":99.5},{"m":"FIRE","r":2,"x":82,"y":99.5},{"m":"FIRE","r":2,"x":86,"y":99.5},{"m":"FIRE","r":2,"x":90,"y":99},{"m":"FIRE","r":2,"x":94,"y":98.5},{"m":"FIRE","r":2,"x":98,"y":96.5},{"m":"FIRE","r":2,"x":100,"y":94},
      {"m":"FIRE","r":3,"x":18,"y":99.5},{"m":"FIRE","r":3,"x":22,"y":99.5},{"m":"FIRE","r":3,"x":26,"y":99.5},{"m":"FIRE","r":3,"x":30,"y":99.5},{"m":"FIRE","r":3,"x":34,"y":99.5},{"m":"FIRE","r":3,"x":38,"y":99.5},{"m":"FIRE","r":3,"x":42,"y":99.5},{"m":"FIRE","r":3,"x":46,"y":99.5},{"m":"FIRE","r":3,"x":50,"y":99.5},{"m":"FIRE","r":3,"x":54,"y":99.5},{"m":"FIRE","r":3,"x":58,"y":99.5},{"m":"FIRE","r":3,"x":62,"y":99.5},{"m":"FIRE","r":3,"x":66,"y":96.5},{"m":"FIRE","r":3,"x":70,"y":95},{"m":"FIRE","r":3,"x":74,"y":92.6},{"m":"FIRE","r":3,"x":78,"y":88.5},{"m":"FIRE","r":3,"x":82,"y":87.9},{"m":"FIRE","r":3,"x":86,"y":85.5},{"m":"FIRE","r":3,"x":90,"y":86.3},{"m":"FIRE","r":3,"x":94,"y":84},{"m":"FIRE","r":3,"x":98,"y":77.7},{"m":"FIRE","r":3,"x":100,"y":71.4},
      {"m":"FIRE","r":4,"x":18,"y":99.5},{"m":"FIRE","r":4,"x":22,"y":99.5},{"m":"FIRE","r":4,"x":26,"y":99.5},{"m":"FIRE","r":4,"x":30,"y":99.5},{"m":"FIRE","r":4,"x":34,"y":99.5},{"m":"FIRE","r":4,"x":38,"y":99.5},{"m":"FIRE","r":4,"x":42,"y":99.5},{"m":"FIRE","r":4,"x":46,"y":99.5},{"m":"FIRE","r":4,"x":50,"y":99.5},{"m":"FIRE","r":4,"x":54,"y":99.5},{"m":"FIRE","r":4,"x":58,"y":99.5},{"m":"FIRE","r":4,"x":62,"y":99.5},{"m":"FIRE","r":4,"x":66,"y":99.5},{"m":"FIRE","r":4,"x":70,"y":95.8},{"m":"FIRE","r":4,"x":74,"y":93.4},{"m":"FIRE","r":4,"x":78,"y":87.1},{"m":"FIRE","r":4,"x":82,"y":84},{"m":"FIRE","r":4,"x":86,"y":77.7},{"m":"FIRE","r":4,"x":90,"y":76.1},{"m":"FIRE","r":4,"x":94,"y":68.7},{"m":"FIRE","r":4,"x":98,"y":67.9},{"m":"FIRE","r":4,"x":100,"y":67.2},
      {"m":"FIRE","r":5,"x":18,"y":99.5},{"m":"FIRE","r":5,"x":22,"y":99.5},{"m":"FIRE","r":5,"x":26,"y":99.5},{"m":"FIRE","r":5,"x":30,"y":99.5},{"m":"FIRE","r":5,"x":34,"y":99.5},{"m":"FIRE","r":5,"x":38,"y":99.5},{"m":"FIRE","r":5,"x":42,"y":99.5},{"m":"FIRE","r":5,"x":46,"y":98.9},{"m":"FIRE","r":5,"x":50,"y":97.3},{"m":"FIRE","r":5,"x":54,"y":94.2},{"m":"FIRE","r":5,"x":58,"y":90.3},{"m":"FIRE","r":5,"x":62,"y":81.6},{"m":"FIRE","r":5,"x":66,"y":80},{"m":"FIRE","r":5,"x":70,"y":73.7},{"m":"FIRE","r":5,"x":74,"y":69.8},{"m":"FIRE","r":5,"x":78,"y":67.2},{"m":"FIRE","r":5,"x":82,"y":60.4},{"m":"FIRE","r":5,"x":86,"y":58.8},{"m":"FIRE","r":5,"x":90,"y":54.1},{"m":"FIRE","r":5,"x":94,"y":50.9},{"m":"FIRE","r":5,"x":98,"y":48.6},{"m":"FIRE","r":5,"x":100,"y":46.2},
      {"m":"FIRE","r":6,"x":18,"y":99.5},{"m":"FIRE","r":6,"x":22,"y":99.5},{"m":"FIRE","r":6,"x":26,"y":99.5},{"m":"FIRE","r":6,"x":30,"y":99.5},{"m":"FIRE","r":6,"x":34,"y":99.5},{"m":"FIRE","r":6,"x":38,"y":99.5},{"m":"FIRE","r":6,"x":42,"y":99.5},{"m":"FIRE","r":6,"x":46,"y":98},{"m":"FIRE","r":6,"x":50,"y":95},{"m":"FIRE","r":6,"x":54,"y":92.6},{"m":"FIRE","r":6,"x":58,"y":88.7},{"m":"FIRE","r":6,"x":62,"y":78.5},{"m":"FIRE","r":6,"x":66,"y":74.5},{"m":"FIRE","r":6,"x":70,"y":61.2},{"m":"FIRE","r":6,"x":74,"y":53.6},{"m":"FIRE","r":6,"x":78,"y":46.2},{"m":"FIRE","r":6,"x":82,"y":40.3},{"m":"FIRE","r":6,"x":86,"y":32.9},{"m":"FIRE","r":6,"x":90,"y":28.1},{"m":"FIRE","r":6,"x":94,"y":28.9},{"m":"FIRE","r":6,"x":98,"y":28.5},{"m":"FIRE","r":6,"x":100,"y":27.4},
      {"m":"FIRE","r":7,"x":18,"y":99.5},{"m":"FIRE","r":7,"x":22,"y":99.5},{"m":"FIRE","r":7,"x":26,"y":99.5},{"m":"FIRE","r":7,"x":30,"y":99.5},{"m":"FIRE","r":7,"x":34,"y":99.5},{"m":"FIRE","r":7,"x":38,"y":99.5},{"m":"FIRE","r":7,"x":42,"y":99.5},{"m":"FIRE","r":7,"x":46,"y":96.5},{"m":"FIRE","r":7,"x":50,"y":95},{"m":"FIRE","r":7,"x":54,"y":87.9},{"m":"FIRE","r":7,"x":58,"y":84.7},{"m":"FIRE","r":7,"x":62,"y":84},{"m":"FIRE","r":7,"x":66,"y":70.6},{"m":"FIRE","r":7,"x":70,"y":58.8},{"m":"FIRE","r":7,"x":74,"y":43.1},{"m":"FIRE","r":7,"x":78,"y":39.9},{"m":"FIRE","r":7,"x":82,"y":36},{"m":"FIRE","r":7,"x":86,"y":26.6},{"m":"FIRE","r":7,"x":90,"y":30},{"m":"FIRE","r":7,"x":94,"y":24.2},{"m":"FIRE","r":7,"x":98,"y":24.2},{"m":"FIRE","r":7,"x":100,"y":27.4},
      {"m":"FIRE","r":8,"x":18,"y":99.5},{"m":"FIRE","r":8,"x":22,"y":99.5},{"m":"FIRE","r":8,"x":26,"y":99.5},{"m":"FIRE","r":8,"x":30,"y":99.5},{"m":"FIRE","r":8,"x":34,"y":99.5},{"m":"FIRE","r":8,"x":38,"y":99.5},{"m":"FIRE","r":8,"x":42,"y":99.5},{"m":"FIRE","r":8,"x":46,"y":95.8},{"m":"FIRE","r":8,"x":50,"y":88.7},{"m":"FIRE","r":8,"x":54,"y":87.9},{"m":"FIRE","r":8,"x":58,"y":88.7},{"m":"FIRE","r":8,"x":62,"y":81.6},{"m":"FIRE","r":8,"x":66,"y":72},{"m":"FIRE","r":8,"x":70,"y":49.4},{"m":"FIRE","r":8,"x":74,"y":40.7},{"m":"FIRE","r":8,"x":78,"y":32.5},{"m":"FIRE","r":8,"x":82,"y":28.1},{"m":"FIRE","r":8,"x":86,"y":28},{"m":"FIRE","r":8,"x":90,"y":11.2},{"m":"FIRE","r":8,"x":94,"y":2.2},{"m":"FIRE","r":8,"x":98,"y":8},{"m":"FIRE","r":8,"x":100,"y":4},
      {"m":"FIRE","r":9,"x":18,"y":99.5},{"m":"FIRE","r":9,"x":22,"y":99.5},{"m":"FIRE","r":9,"x":26,"y":99.5},{"m":"FIRE","r":9,"x":30,"y":99.5},{"m":"FIRE","r":9,"x":34,"y":99.5},{"m":"FIRE","r":9,"x":38,"y":99.5},{"m":"FIRE","r":9,"x":42,"y":99.5},{"m":"FIRE","r":9,"x":46,"y":95.8},{"m":"FIRE","r":9,"x":50,"y":88.7},{"m":"FIRE","r":9,"x":54,"y":80.8},{"m":"FIRE","r":9,"x":58,"y":73},{"m":"FIRE","r":9,"x":62,"y":65.4},{"m":"FIRE","r":9,"x":66,"y":55.7},{"m":"FIRE","r":9,"x":70,"y":37.9},{"m":"FIRE","r":9,"x":74,"y":24.7},{"m":"FIRE","r":9,"x":78,"y":17.9},{"m":"FIRE","r":9,"x":82,"y":10.1},{"m":"FIRE","r":9,"x":86,"y":2.2},{"m":"FIRE","r":9,"x":90,"y":0.6},{"m":"FIRE","r":9,"x":94,"y":0.6},{"m":"FIRE","r":9,"x":98,"y":0.6},{"m":"FIRE","r":9,"x":100,"y":2}
    ],
    "ygrid": [{"g": 0, "a": 20, "b": 100}, {"g": 20, "a": 20, "b": 100}, {"g": 40, "a": 20, "b": 100}, {"g": 60, "a": 20, "b": 100}, {"g": 80, "a": 20, "b": 100}, {"g": 100, "a": 20, "b": 100}],
    "span": [{"a": 20, "b": 40}]
  },
  "data": {"name": "acc"},
  "columns": 2,
  "bounds": "flush",
  "spacing": {"row": 65, "column": 93},
  "resolve": {"scale": {"color": "independent", "x": "independent", "y": "independent"}, "legend": {"color": "independent"}},
  "concat": [
    {
      "width": 389, "height": 217,
      "layer": [
        {"data": {"name": "ygrid"}, "mark": {"type": "rect", "fill": "#cccccc", "height": 1.2},
         "encoding": {"x": {"field": "a", "type": "quantitative", "scale": {"domain": [20, 100], "nice": false, "zero": false}, "axis": {"title": "Digit Length", "values": [20, 30, 40, 50, 60, 70, 80, 90, 100]}}, "x2": {"field": "b"},
                      "y": {"field": "g", "type": "quantitative", "scale": {"domain": [-1.5, 101.5], "nice": false, "zero": false}, "axis": {"title": "Exact Match Accuracy (%)", "values": [0, 20, 40, 60, 80, 100]}}}},
        {"data": {"name": "span"}, "mark": {"type": "rect", "fill": "#808080", "fillOpacity": 0.18, "stroke": "#808080", "strokeOpacity": 0.18, "strokeWidth": 1},
         "encoding": {"x": {"field": "a", "type": "quantitative", "scale": {"domain": [20, 100], "nice": false, "zero": false}, "axis": {"title": "Digit Length", "values": [20, 30, 40, 50, 60, 70, 80, 90, 100]}}, "x2": {"field": "b"},
                      "y": {"datum": -1.5, "type": "quantitative", "scale": {"domain": [-1.5, 101.5], "nice": false, "zero": false}, "axis": {"title": "Exact Match Accuracy (%)", "values": [0, 20, 40, 60, 80, 100]}}, "y2": {"datum": 101.5}}},
        {"transform": [{"filter": "datum.m === 'RoPE'"}], "mark": {"type": "line", "color": "#77AADD", "strokeWidth": 1.5, "clip": true},
         "encoding": {"x": {"field": "x", "type": "quantitative", "scale": {"domain": [20, 100], "nice": false, "zero": false}, "axis": {"title": "Digit Length", "values": [20, 30, 40, 50, 60, 70, 80, 90, 100]}},
                      "y": {"field": "y", "type": "quantitative", "scale": {"domain": [-1.5, 101.5], "nice": false, "zero": false}, "axis": {"title": "Exact Match Accuracy (%)", "values": [0, 20, 40, 60, 80, 100]}},
                      "detail": {"field": "r", "type": "nominal"}}},
        {"transform": [{"filter": "datum.m === 'RoPE'"}], "mark": {"type": "point", "shape": "square", "filled": true, "size": 45, "opacity": 1, "clip": true},
         "encoding": {"x": {"field": "x", "type": "quantitative", "scale": {"domain": [20, 100], "nice": false, "zero": false}, "axis": {"title": "Digit Length", "values": [20, 30, 40, 50, 60, 70, 80, 90, 100]}},
                      "y": {"field": "y", "type": "quantitative", "scale": {"domain": [-1.5, 101.5], "nice": false, "zero": false}, "axis": {"title": "Exact Match Accuracy (%)", "values": [0, 20, 40, 60, 80, 100]}},
                      "detail": {"field": "r", "type": "nominal"},
                      "color": {"field": "m", "type": "nominal", "scale": {"domain": ["RoPE"], "range": ["#77AADD"]},
                                "legend": {"symbolType": "M-1,0H4.33M1.13,-0.54H2.2V0.54H1.13Z", "symbolFillColor": "#77AADD", "symbolStrokeColor": "#77AADD",
                                           "encode": {"symbols": {"update": {"fill": {"value": "#77AADD"}, "stroke": {"value": "#77AADD"}, "strokeWidth": {"value": 1.5}, "opacity": {"value": 1}}}}}}}}
      ]
    },
    {
      "width": 389, "height": 217,
      "layer": [
        {"data": {"name": "ygrid"}, "mark": {"type": "rect", "fill": "#cccccc", "height": 1.2},
         "encoding": {"x": {"field": "a", "type": "quantitative", "scale": {"domain": [20, 100], "nice": false, "zero": false}, "axis": {"title": "Digit Length", "values": [20, 30, 40, 50, 60, 70, 80, 90, 100]}}, "x2": {"field": "b"},
                      "y": {"field": "g", "type": "quantitative", "scale": {"domain": [-1.5, 101.5], "nice": false, "zero": false}, "axis": {"title": "Exact Match Accuracy (%)", "values": [0, 20, 40, 60, 80, 100]}}}},
        {"data": {"name": "span"}, "mark": {"type": "rect", "fill": "#808080", "fillOpacity": 0.18, "stroke": "#808080", "strokeOpacity": 0.18, "strokeWidth": 1},
         "encoding": {"x": {"field": "a", "type": "quantitative", "scale": {"domain": [20, 100], "nice": false, "zero": false}, "axis": {"title": "Digit Length", "values": [20, 30, 40, 50, 60, 70, 80, 90, 100]}}, "x2": {"field": "b"},
                      "y": {"datum": -1.5, "type": "quantitative", "scale": {"domain": [-1.5, 101.5], "nice": false, "zero": false}, "axis": {"title": "Exact Match Accuracy (%)", "values": [0, 20, 40, 60, 80, 100]}}, "y2": {"datum": 101.5}}},
        {"transform": [{"filter": "datum.m === 'KerpleLog'"}], "mark": {"type": "line", "color": "#44BB99", "strokeWidth": 1.5, "clip": true},
         "encoding": {"x": {"field": "x", "type": "quantitative", "scale": {"domain": [20, 100], "nice": false, "zero": false}, "axis": {"title": "Digit Length", "values": [20, 30, 40, 50, 60, 70, 80, 90, 100]}},
                      "y": {"field": "y", "type": "quantitative", "scale": {"domain": [-1.5, 101.5], "nice": false, "zero": false}, "axis": {"title": "Exact Match Accuracy (%)", "values": [0, 20, 40, 60, 80, 100]}},
                      "detail": {"field": "r", "type": "nominal"}}},
        {"transform": [{"filter": "datum.m === 'KerpleLog'"}], "mark": {"type": "point", "shape": "triangle-up", "filled": true, "size": 64, "opacity": 1, "clip": true},
         "encoding": {"x": {"field": "x", "type": "quantitative", "scale": {"domain": [20, 100], "nice": false, "zero": false}, "axis": {"title": "Digit Length", "values": [20, 30, 40, 50, 60, 70, 80, 90, 100]}},
                      "y": {"field": "y", "type": "quantitative", "scale": {"domain": [-1.5, 101.5], "nice": false, "zero": false}, "axis": {"title": "Exact Match Accuracy (%)", "values": [0, 20, 40, 60, 80, 100]}},
                      "detail": {"field": "r", "type": "nominal"},
                      "color": {"field": "m", "type": "nominal", "scale": {"domain": ["KerpleLog"], "range": ["#44BB99"]},
                                "legend": {"symbolType": "M-1,0H4.33M1.667,-0.6L2.33,0.55H1Z", "symbolFillColor": "#44BB99", "symbolStrokeColor": "#44BB99",
                                           "encode": {"symbols": {"update": {"fill": {"value": "#44BB99"}, "stroke": {"value": "#44BB99"}, "strokeWidth": {"value": 1.5}, "opacity": {"value": 1}}}}}}}}
      ]
    },
    {
      "width": 389, "height": 217,
      "layer": [
        {"data": {"name": "ygrid"}, "mark": {"type": "rect", "fill": "#cccccc", "height": 1.2},
         "encoding": {"x": {"field": "a", "type": "quantitative", "scale": {"domain": [20, 100], "nice": false, "zero": false}, "axis": {"title": "Digit Length", "values": [20, 30, 40, 50, 60, 70, 80, 90, 100]}}, "x2": {"field": "b"},
                      "y": {"field": "g", "type": "quantitative", "scale": {"domain": [-1.5, 101.5], "nice": false, "zero": false}, "axis": {"title": "Exact Match Accuracy (%)", "values": [0, 20, 40, 60, 80, 100]}}}},
        {"data": {"name": "span"}, "mark": {"type": "rect", "fill": "#808080", "fillOpacity": 0.18, "stroke": "#808080", "strokeOpacity": 0.18, "strokeWidth": 1},
         "encoding": {"x": {"field": "a", "type": "quantitative", "scale": {"domain": [20, 100], "nice": false, "zero": false}, "axis": {"title": "Digit Length", "values": [20, 30, 40, 50, 60, 70, 80, 90, 100]}}, "x2": {"field": "b"},
                      "y": {"datum": -1.5, "type": "quantitative", "scale": {"domain": [-1.5, 101.5], "nice": false, "zero": false}, "axis": {"title": "Exact Match Accuracy (%)", "values": [0, 20, 40, 60, 80, 100]}}, "y2": {"datum": 101.5}}},
        {"transform": [{"filter": "datum.m === 'NoPE'"}], "mark": {"type": "line", "color": "#BBCC33", "strokeWidth": 1.5, "clip": true},
         "encoding": {"x": {"field": "x", "type": "quantitative", "scale": {"domain": [20, 100], "nice": false, "zero": false}, "axis": {"title": "Digit Length", "values": [20, 30, 40, 50, 60, 70, 80, 90, 100]}},
                      "y": {"field": "y", "type": "quantitative", "scale": {"domain": [-1.5, 101.5], "nice": false, "zero": false}, "axis": {"title": "Exact Match Accuracy (%)", "values": [0, 20, 40, 60, 80, 100]}},
                      "detail": {"field": "r", "type": "nominal"}}},
        {"transform": [{"filter": "datum.m === 'NoPE'"}], "mark": {"type": "point", "shape": "circle", "filled": true, "size": 58, "opacity": 1, "clip": true},
         "encoding": {"x": {"field": "x", "type": "quantitative", "scale": {"domain": [20, 100], "nice": false, "zero": false}, "axis": {"title": "Digit Length", "values": [20, 30, 40, 50, 60, 70, 80, 90, 100]}},
                      "y": {"field": "y", "type": "quantitative", "scale": {"domain": [-1.5, 101.5], "nice": false, "zero": false}, "axis": {"title": "Exact Match Accuracy (%)", "values": [0, 20, 40, 60, 80, 100]}},
                      "detail": {"field": "r", "type": "nominal"},
                      "color": {"field": "m", "type": "nominal", "scale": {"domain": ["NoPE"], "range": ["#BBCC33"]},
                                "legend": {"symbolType": "M-1,0H4.33M2.29,0A0.62,0.62,0,1,1,1.05,0A0.62,0.62,0,1,1,2.29,0Z", "symbolFillColor": "#BBCC33", "symbolStrokeColor": "#BBCC33",
                                           "encode": {"symbols": {"update": {"fill": {"value": "#BBCC33"}, "stroke": {"value": "#BBCC33"}, "strokeWidth": {"value": 1.5}, "opacity": {"value": 1}}}}}}}}
      ]
    },
    {
      "width": 389, "height": 217,
      "layer": [
        {"data": {"name": "ygrid"}, "mark": {"type": "rect", "fill": "#cccccc", "height": 1.2},
         "encoding": {"x": {"field": "a", "type": "quantitative", "scale": {"domain": [20, 100], "nice": false, "zero": false}, "axis": {"title": "Digit Length", "values": [20, 30, 40, 50, 60, 70, 80, 90, 100]}}, "x2": {"field": "b"},
                      "y": {"field": "g", "type": "quantitative", "scale": {"domain": [-1.5, 101.5], "nice": false, "zero": false}, "axis": {"title": "Exact Match Accuracy (%)", "values": [0, 20, 40, 60, 80, 100]}}}},
        {"data": {"name": "span"}, "mark": {"type": "rect", "fill": "#808080", "fillOpacity": 0.18, "stroke": "#808080", "strokeOpacity": 0.18, "strokeWidth": 1},
         "encoding": {"x": {"field": "a", "type": "quantitative", "scale": {"domain": [20, 100], "nice": false, "zero": false}, "axis": {"title": "Digit Length", "values": [20, 30, 40, 50, 60, 70, 80, 90, 100]}}, "x2": {"field": "b"},
                      "y": {"datum": -1.5, "type": "quantitative", "scale": {"domain": [-1.5, 101.5], "nice": false, "zero": false}, "axis": {"title": "Exact Match Accuracy (%)", "values": [0, 20, 40, 60, 80, 100]}}, "y2": {"datum": 101.5}}},
        {"transform": [{"filter": "datum.m === 'FIRE'"}], "mark": {"type": "line", "color": "#EE8866", "strokeWidth": 1.5, "clip": true},
         "encoding": {"x": {"field": "x", "type": "quantitative", "scale": {"domain": [20, 100], "nice": false, "zero": false}, "axis": {"title": "Digit Length", "values": [20, 30, 40, 50, 60, 70, 80, 90, 100]}},
                      "y": {"field": "y", "type": "quantitative", "scale": {"domain": [-1.5, 101.5], "nice": false, "zero": false}, "axis": {"title": "Exact Match Accuracy (%)", "values": [0, 20, 40, 60, 80, 100]}},
                      "detail": {"field": "r", "type": "nominal"}}},
        {"transform": [{"filter": "datum.m === 'FIRE'"}], "mark": {"type": "point", "shape": "diamond", "filled": true, "size": 64, "opacity": 1, "clip": true},
         "encoding": {"x": {"field": "x", "type": "quantitative", "scale": {"domain": [20, 100], "nice": false, "zero": false}, "axis": {"title": "Digit Length", "values": [20, 30, 40, 50, 60, 70, 80, 90, 100]}},
                      "y": {"field": "y", "type": "quantitative", "scale": {"domain": [-1.5, 101.5], "nice": false, "zero": false}, "axis": {"title": "Exact Match Accuracy (%)", "values": [0, 20, 40, 60, 80, 100]}},
                      "detail": {"field": "r", "type": "nominal"},
                      "color": {"field": "m", "type": "nominal", "scale": {"domain": ["FIRE"], "range": ["#EE8866"]},
                                "legend": {"symbolType": "M-1,0H4.33M1.667,-0.667L2.33,0L1.667,0.667L1,0Z", "symbolFillColor": "#EE8866", "symbolStrokeColor": "#EE8866",
                                           "encode": {"symbols": {"update": {"fill": {"value": "#EE8866"}, "stroke": {"value": "#EE8866"}, "strokeWidth": {"value": 1.5}, "opacity": {"value": 1}}}}}}}}
      ]
    }
  ],
  "config": {
    "view": {"stroke": null},
    "font": "DejaVu Sans",
    "axis": {"offset": 10, "domainColor": "#000000", "domainWidth": 1.6, "ticks": false, "gridColor": "#cccccc", "gridWidth": 1, "gridOpacity": 1,
             "labelFontSize": 13, "labelColor": "#1a1a1a", "labelPadding": 4, "labelFlush": false,
             "titleFontSize": 13, "titleFontWeight": "normal", "titleColor": "#1a1a1a"},
    "axisX": {"titlePadding": 6, "labelPadding": 3, "grid": true},
    "axisY": {"titlePadding": 7, "grid": true},
    "legend": {"title": null, "orient": "none", "legendX": 7, "legendY": 174, "symbolSize": 144, "symbolStrokeWidth": 1.5, "labelOffset": 30,
               "labelFontSize": 13, "labelColor": "#1a1a1a", "padding": 5, "fillColor": "rgba(255,255,255,0.8)", "strokeColor": "#cccccc", "cornerRadius": 3}
  }
}
